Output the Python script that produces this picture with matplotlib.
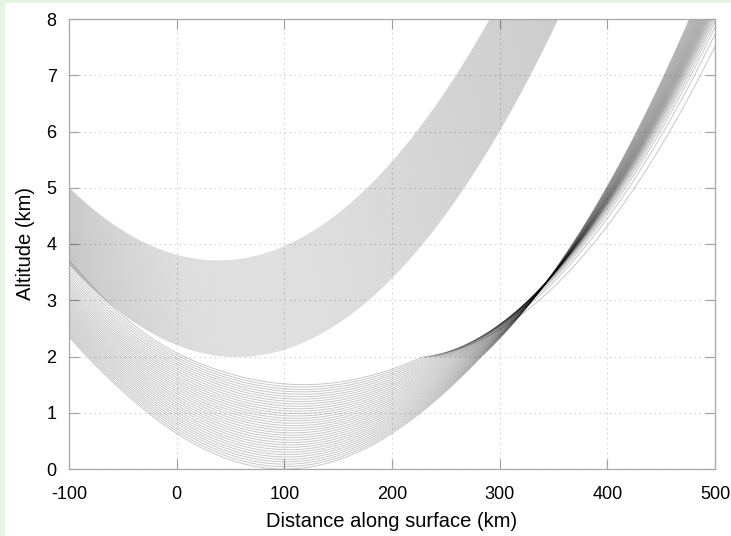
"""Ray paths through a boundary layer capped by a thin trapping layer at 2 km.
Rays are traced in the flat-earth picture using modified refractivity gradients.
The inversion only exists downrange, so the left half of each ray sees no layer."""
import numpy as np
import matplotlib
matplotlib.use("Agg")
import matplotlib.pyplot as plt
from matplotlib.collections import LineCollection
from matplotlib.patches import Rectangle

# dM/dh (M-units per km) at node heights, linearly interpolated in between.
UPRANGE_H = [0.0, 1.97, 2.0, 20.0]
UPRANGE_DMDH = [130.0, 69.1, 135.0, 135.0]
DOWNRANGE_H = [0.0, 1.97, 1.975, 1.995, 2.0, 20.0]
DOWNRANGE_DMDH = [130.0, 69.1, -1340.0, -1340.0, 135.0, 135.0]

# Two fans of rays, given by the tangent points of their lowest and highest ray.
UPPER_TANGENT_H = [2.0, 3.7]
UPPER_TANGENT_X = [56.0, 38.7]
UPPER_RAYS = 95
LOWER_TANGENT_H = [0.0, 1.5]
LOWER_TANGENT_X = [100.0, 118.0]
LOWER_RAYS = 36

X_TICKS = [-100, 0, 100, 200, 300, 400, 500]
Y_TICKS = [0, 1, 2, 3, 4, 5, 6, 7, 8]

W, H = 731, 536


def march(h_t, node_h, node_g, step=0.02, reach=480.0):
    """Integrate y'' = 1e-6 dM/dh away from the tangent point (slope 0)."""
    g = np.asarray(node_g) * 1e-6

    def accel(y):
        return np.interp(y, node_h, g)

    n = int(reach / step) + 1
    y = np.empty((n, h_t.size))
    y[0] = h_t
    s = np.zeros(h_t.size)
    a = accel(h_t)
    for i in range(1, n):
        y[i] = y[i - 1] + s * step + 0.5 * a * step ** 2
        a_new = accel(y[i])
        s = s + 0.5 * (a + a_new) * step
        a = a_new
    return np.arange(n) * step, y


def fan(h_range, x_range, count):
    h_t = np.linspace(h_range[0], h_range[1], count)
    x_t = np.interp(h_t, h_range, x_range)
    d, y_left = march(h_t, UPRANGE_H, UPRANGE_DMDH)
    _, y_right = march(h_t, DOWNRANGE_H, DOWNRANGE_DMDH)
    segs = []
    for k in range(count):
        xs = np.concatenate([x_t[k] - d[::-1], x_t[k] + d[1:]])
        ys = np.concatenate([y_left[::-1, k], y_right[1:, k]])
        keep = ys < 9.0
        segs.append(np.column_stack([xs[keep], ys[keep]]))
    return segs


plt.rcParams["font.family"] = ["Liberation Sans", "DejaVu Sans"]
plt.rcParams["axes.unicode_minus"] = False

fig = plt.figure(figsize=(W / 100, H / 100), dpi=100, facecolor="#e6f4e3")
fig.add_artist(Rectangle((5 / W, 0), 1, 1 - 3 / H, transform=fig.transFigure,
                         facecolor="white", edgecolor="none", zorder=-1))
ax = fig.add_axes([69 / W, 1 - 469 / H, (715 - 69) / W, (469 - 19) / H])

upper = fan(UPPER_TANGENT_H, UPPER_TANGENT_X, UPPER_RAYS)
lower = fan(LOWER_TANGENT_H, LOWER_TANGENT_X, LOWER_RAYS)
ax.add_collection(LineCollection(upper, colors="black", linewidths=0.7, alpha=0.13))
ax.add_collection(LineCollection(lower, colors="black", linewidths=0.7, alpha=0.22))

ax.set_xlim(-100, 500)
ax.set_ylim(0, 8)
ax.set_xticks(X_TICKS)
ax.set_yticks(Y_TICKS)
ax.grid(True, color="#d4d4d4", ls=(0, (1.5, 3)), lw=0.8)
ax.tick_params(direction="in", length=7, width=0.8, color="#a0a0a0",
               top=True, right=True, labelsize=13)
ax.tick_params(axis="x", pad=12.5)
ax.tick_params(axis="y", pad=9)
for sp in ax.spines.values():
    sp.set_color("#a8a8a8")
    sp.set_linewidth(0.9)
ax.set_xlabel("Distance along surface (km)", fontsize=14.5, labelpad=6)
ax.set_ylabel("Altitude (km)", fontsize=14.5, labelpad=8)

fig.savefig("out.png", dpi=100, facecolor=fig.get_facecolor())
